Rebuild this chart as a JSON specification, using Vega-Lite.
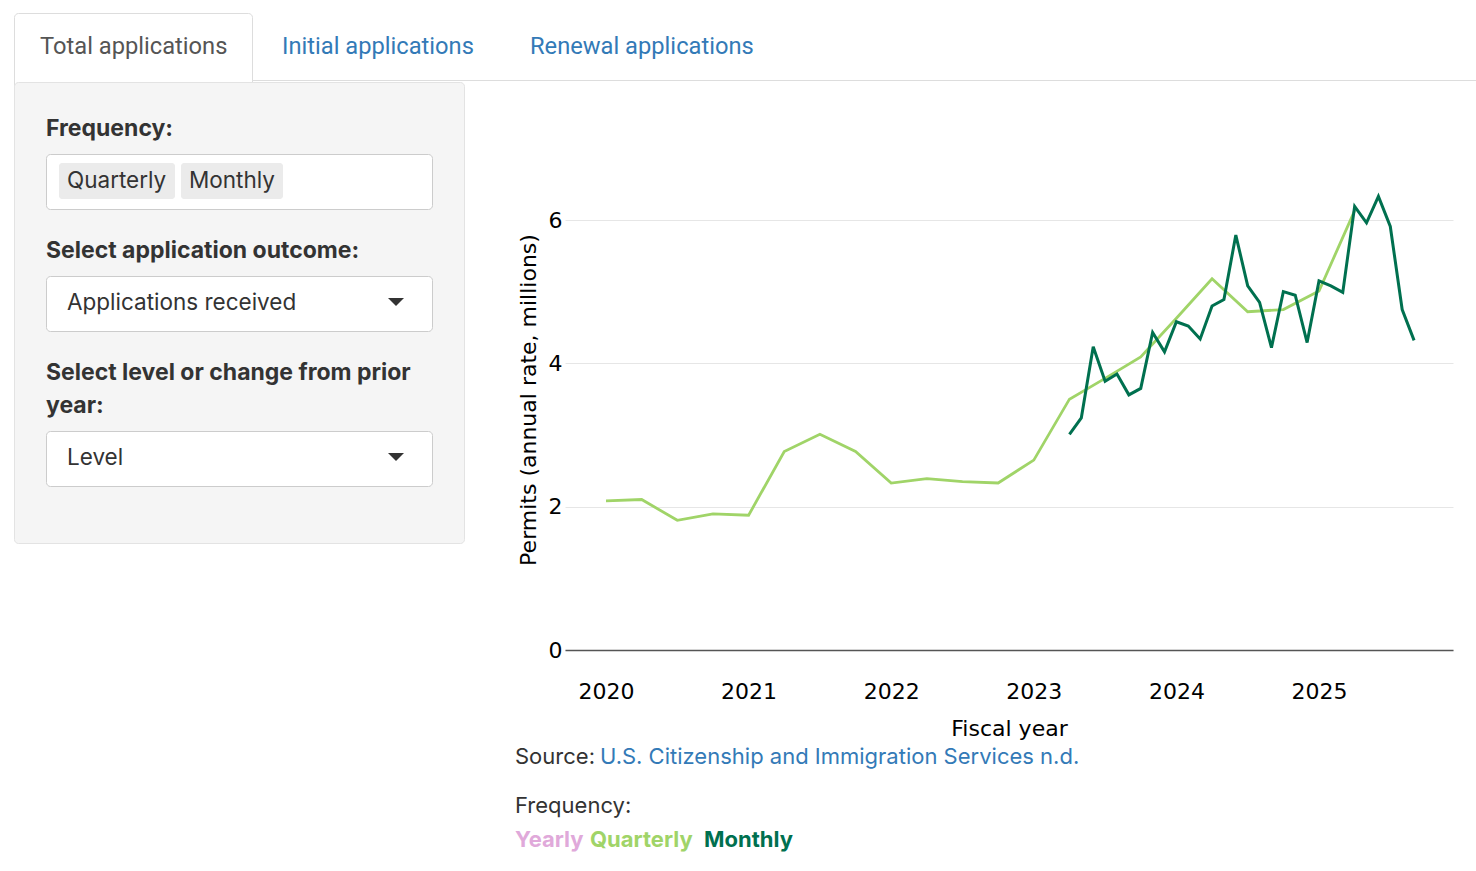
{
  "$schema": "https://vega.github.io/schema/vega-lite/v6.json",
  "padding": 0,
  "background": "white",
  "config": {"view": {"stroke": null}},
  "datasets": {
    "series": [
      {"t": 2020.0, "v": 2.08, "f": "Quarterly"},
      {"t": 2020.25, "v": 2.10, "f": "Quarterly"},
      {"t": 2020.5, "v": 1.81, "f": "Quarterly"},
      {"t": 2020.75, "v": 1.90, "f": "Quarterly"},
      {"t": 2021.0, "v": 1.88, "f": "Quarterly"},
      {"t": 2021.25, "v": 2.77, "f": "Quarterly"},
      {"t": 2021.5, "v": 3.01, "f": "Quarterly"},
      {"t": 2021.75, "v": 2.77, "f": "Quarterly"},
      {"t": 2022.0, "v": 2.33, "f": "Quarterly"},
      {"t": 2022.25, "v": 2.39, "f": "Quarterly"},
      {"t": 2022.5, "v": 2.35, "f": "Quarterly"},
      {"t": 2022.75, "v": 2.33, "f": "Quarterly"},
      {"t": 2023.0, "v": 2.65, "f": "Quarterly"},
      {"t": 2023.25, "v": 3.50, "f": "Quarterly"},
      {"t": 2023.5, "v": 3.79, "f": "Quarterly"},
      {"t": 2023.75, "v": 4.09, "f": "Quarterly"},
      {"t": 2024.0, "v": 4.63, "f": "Quarterly"},
      {"t": 2024.25, "v": 5.18, "f": "Quarterly"},
      {"t": 2024.5, "v": 4.72, "f": "Quarterly"},
      {"t": 2024.75, "v": 4.75, "f": "Quarterly"},
      {"t": 2025.0, "v": 5.01, "f": "Quarterly"},
      {"t": 2025.25, "v": 6.13, "f": "Quarterly"},
      {"t": 2023.25, "v": 3.01, "f": "Monthly"},
      {"t": 2023.3333, "v": 3.24, "f": "Monthly"},
      {"t": 2023.4167, "v": 4.23, "f": "Monthly"},
      {"t": 2023.5, "v": 3.75, "f": "Monthly"},
      {"t": 2023.5833, "v": 3.85, "f": "Monthly"},
      {"t": 2023.6667, "v": 3.56, "f": "Monthly"},
      {"t": 2023.75, "v": 3.65, "f": "Monthly"},
      {"t": 2023.8333, "v": 4.43, "f": "Monthly"},
      {"t": 2023.9167, "v": 4.16, "f": "Monthly"},
      {"t": 2024.0, "v": 4.58, "f": "Monthly"},
      {"t": 2024.0833, "v": 4.52, "f": "Monthly"},
      {"t": 2024.1667, "v": 4.34, "f": "Monthly"},
      {"t": 2024.25, "v": 4.80, "f": "Monthly"},
      {"t": 2024.3333, "v": 4.89, "f": "Monthly"},
      {"t": 2024.4167, "v": 5.79, "f": "Monthly"},
      {"t": 2024.5, "v": 5.08, "f": "Monthly"},
      {"t": 2024.5833, "v": 4.85, "f": "Monthly"},
      {"t": 2024.6667, "v": 4.22, "f": "Monthly"},
      {"t": 2024.75, "v": 5.00, "f": "Monthly"},
      {"t": 2024.8333, "v": 4.95, "f": "Monthly"},
      {"t": 2024.9167, "v": 4.29, "f": "Monthly"},
      {"t": 2025.0, "v": 5.15, "f": "Monthly"},
      {"t": 2025.0833, "v": 5.08, "f": "Monthly"},
      {"t": 2025.1667, "v": 4.99, "f": "Monthly"},
      {"t": 2025.25, "v": 6.19, "f": "Monthly"},
      {"t": 2025.3333, "v": 5.96, "f": "Monthly"},
      {"t": 2025.4167, "v": 6.33, "f": "Monthly"},
      {"t": 2025.5, "v": 5.91, "f": "Monthly"},
      {"t": 2025.5833, "v": 4.75, "f": "Monthly"},
      {"t": 2025.6667, "v": 4.32, "f": "Monthly"}
    ]
  },
  "spacing": 0,
  "bounds": "flush",
  "vconcat": [
    {
      "width": 1476,
      "height": 82,
      "data": {"values": [{}]},
      "layer": [
        {
          "mark": {"type": "rect", "fill": "white", "stroke": "#dddddd", "strokeWidth": 1, "cornerRadiusTopLeft": 4, "cornerRadiusTopRight": 4},
          "encoding": {
            "x": {"datum": 14.5, "type": "quantitative", "scale": {"domain": [0, 1476], "nice": false, "zero": false}, "axis": null},
            "x2": {"datum": 252.5},
            "y": {"datum": 13.5, "type": "quantitative", "scale": {"domain": [82, 0], "nice": false, "zero": false}, "axis": null},
            "y2": {"datum": 95}
          }
        },
        {
          "mark": {"type": "rule", "stroke": "#dddddd", "strokeWidth": 1},
          "encoding": {
            "x": {"datum": 252.5, "type": "quantitative", "axis": null},
            "x2": {"datum": 1476},
            "y": {"datum": 80.5, "type": "quantitative", "axis": null}
          }
        },
        {
          "mark": {"type": "text", "align": "left", "baseline": "middle", "font": "Roboto", "fontSize": 23.7, "color": "#555555", "text": "Total applications"},
          "encoding": {"x": {"datum": 40, "type": "quantitative", "axis": null}, "y": {"datum": 47, "type": "quantitative", "axis": null}}
        },
        {
          "mark": {"type": "text", "align": "left", "baseline": "middle", "font": "Roboto", "fontSize": 23.7, "color": "#337ab7", "text": "Initial applications"},
          "encoding": {"x": {"datum": 282, "type": "quantitative", "axis": null}, "y": {"datum": 47, "type": "quantitative", "axis": null}}
        },
        {
          "mark": {"type": "text", "align": "left", "baseline": "middle", "font": "Roboto", "fontSize": 23.7, "color": "#337ab7", "text": "Renewal applications"},
          "encoding": {"x": {"datum": 530, "type": "quantitative", "axis": null}, "y": {"datum": 47, "type": "quantitative", "axis": null}}
        }
      ]
    },
    {
      "spacing": 0,
      "bounds": "flush",
      "hconcat": [
        {
          "width": 565,
          "height": 568,
          "data": {"values": [{}]},
          "layer": [
            {
              "mark": {"type": "rect", "fill": "#f5f5f5", "stroke": "#e3e3e3", "strokeWidth": 1, "cornerRadius": 4},
              "encoding": {
                "x": {"datum": 14.5, "type": "quantitative", "scale": {"domain": [0, 565], "nice": false, "zero": false}, "axis": null},
                "x2": {"datum": 464.5},
                "y": {"datum": 82.5, "type": "quantitative", "scale": {"domain": [650, 82], "nice": false, "zero": false}, "axis": null},
                "y2": {"datum": 543.5}
              }
            },
            {
              "mark": {"type": "rect", "fill": "white", "stroke": "#cccccc", "strokeWidth": 1, "cornerRadius": 4},
              "encoding": {"x": {"datum": 46.5, "type": "quantitative", "axis": null}, "x2": {"datum": 432.5}, "y": {"datum": 154.5, "type": "quantitative", "axis": null}, "y2": {"datum": 209.5}}
            },
            {
              "mark": {"type": "rect", "fill": "white", "stroke": "#cccccc", "strokeWidth": 1, "cornerRadius": 4},
              "encoding": {"x": {"datum": 46.5, "type": "quantitative", "axis": null}, "x2": {"datum": 432.5}, "y": {"datum": 276.5, "type": "quantitative", "axis": null}, "y2": {"datum": 331.5}}
            },
            {
              "mark": {"type": "rect", "fill": "white", "stroke": "#cccccc", "strokeWidth": 1, "cornerRadius": 4},
              "encoding": {"x": {"datum": 46.5, "type": "quantitative", "axis": null}, "x2": {"datum": 432.5}, "y": {"datum": 431.5, "type": "quantitative", "axis": null}, "y2": {"datum": 486.5}}
            },
            {
              "mark": {"type": "rect", "fill": "#ebebeb", "cornerRadius": 3},
              "encoding": {"x": {"datum": 59, "type": "quantitative", "axis": null}, "x2": {"datum": 175}, "y": {"datum": 163, "type": "quantitative", "axis": null}, "y2": {"datum": 199}}
            },
            {
              "mark": {"type": "rect", "fill": "#ebebeb", "cornerRadius": 3},
              "encoding": {"x": {"datum": 181, "type": "quantitative", "axis": null}, "x2": {"datum": 283}, "y": {"datum": 163, "type": "quantitative", "axis": null}, "y2": {"datum": 199}}
            },
            {
              "mark": {"type": "text", "align": "left", "baseline": "middle", "font": "Inter", "fontSize": 23, "fontWeight": "bold", "color": "#333333", "text": "Frequency:"},
              "encoding": {"x": {"datum": 46, "type": "quantitative", "axis": null}, "y": {"datum": 129, "type": "quantitative", "axis": null}}
            },
            {
              "mark": {"type": "text", "align": "left", "baseline": "middle", "font": "Inter", "fontSize": 23, "fontWeight": "bold", "color": "#333333", "text": "Select application outcome:"},
              "encoding": {"x": {"datum": 46, "type": "quantitative", "axis": null}, "y": {"datum": 251, "type": "quantitative", "axis": null}}
            },
            {
              "mark": {"type": "text", "align": "left", "baseline": "middle", "font": "Inter", "fontSize": 23, "fontWeight": "bold", "color": "#333333", "text": "Select level or change from prior"},
              "encoding": {"x": {"datum": 46, "type": "quantitative", "axis": null}, "y": {"datum": 373, "type": "quantitative", "axis": null}}
            },
            {
              "mark": {"type": "text", "align": "left", "baseline": "middle", "font": "Inter", "fontSize": 23, "fontWeight": "bold", "color": "#333333", "text": "year:"},
              "encoding": {"x": {"datum": 46, "type": "quantitative", "axis": null}, "y": {"datum": 406, "type": "quantitative", "axis": null}}
            },
            {
              "mark": {"type": "text", "align": "left", "baseline": "middle", "font": "Inter", "fontSize": 22.5, "color": "#333333", "text": "Quarterly"},
              "encoding": {"x": {"datum": 67, "type": "quantitative", "axis": null}, "y": {"datum": 181, "type": "quantitative", "axis": null}}
            },
            {
              "mark": {"type": "text", "align": "left", "baseline": "middle", "font": "Inter", "fontSize": 22.5, "color": "#333333", "text": "Monthly"},
              "encoding": {"x": {"datum": 189, "type": "quantitative", "axis": null}, "y": {"datum": 181, "type": "quantitative", "axis": null}}
            },
            {
              "mark": {"type": "text", "align": "left", "baseline": "middle", "font": "Inter", "fontSize": 22.5, "color": "#333333", "text": "Applications received"},
              "encoding": {"x": {"datum": 67, "type": "quantitative", "axis": null}, "y": {"datum": 303, "type": "quantitative", "axis": null}}
            },
            {
              "mark": {"type": "text", "align": "left", "baseline": "middle", "font": "Inter", "fontSize": 22.5, "color": "#333333", "text": "Level"},
              "encoding": {"x": {"datum": 67, "type": "quantitative", "axis": null}, "y": {"datum": 458, "type": "quantitative", "axis": null}}
            },
            {
              "mark": {"type": "point", "shape": "M-1,-0.5L1,-0.5L0,0.5Z", "size": 256, "filled": true, "color": "#333333", "opacity": 1},
              "encoding": {"x": {"datum": 396, "type": "quantitative", "axis": null}, "y": {"datum": 302, "type": "quantitative", "axis": null}}
            },
            {
              "mark": {"type": "point", "shape": "M-1,-0.5L1,-0.5L0,0.5Z", "size": 256, "filled": true, "color": "#333333", "opacity": 1},
              "encoding": {"x": {"datum": 396, "type": "quantitative", "axis": null}, "y": {"datum": 457, "type": "quantitative", "axis": null}}
            }
          ]
        },
        {
          "width": 888,
          "height": 568,
          "layer": [
            {
              "data": {"name": "series"},
              "transform": [{"filter": "datum.f === 'Quarterly'"}],
              "mark": {"type": "line", "strokeWidth": 2.8},
              "encoding": {
                "x": {
                  "field": "t", "type": "quantitative",
                  "scale": {"domain": [2019.7125, 2025.9397], "nice": false, "zero": false},
                  "axis": {"values": [2020, 2021, 2022, 2023, 2024, 2025], "format": "d", "title": "Fiscal year", "labelFont": "DejaVu Sans", "labelFontSize": 22, "labelColor": "#000000", "labelPadding": 31, "labelFlush": false, "ticks": false, "tickSize": 0, "grid": false, "domainColor": "#555555", "domainWidth": 1.5, "titleFont": "DejaVu Sans", "titleFontSize": 22, "titleFontWeight": "normal", "titleColor": "#000000", "titlePadding": 16}
                },
                "y": {
                  "field": "v", "type": "quantitative",
                  "scale": {"domain": [0, 7.9256], "nice": false, "zero": false},
                  "axis": {"values": [0, 2, 4, 6], "format": "d", "title": "Permits (annual rate, millions)", "labelFont": "DejaVu Sans", "labelFontSize": 22, "labelColor": "#000000", "labelPadding": 3, "ticks": false, "tickSize": 0, "domain": false, "grid": true, "gridColor": "#e6e6e6", "gridWidth": 1, "titleFont": "DejaVu Sans", "titleFontSize": 22, "titleFontWeight": "normal", "titleColor": "#000000", "titlePadding": 8, "titleY": 317.5}
                },
                "color": {
                  "field": "f", "type": "nominal",
                  "scale": {"domain": ["Yearly", "Quarterly", "Monthly"], "range": ["#e0a9da", "#a0d468", "#00704f"]},
                  "legend": null
                }
              }
            },
            {
              "data": {"name": "series"},
              "transform": [{"filter": "datum.f === 'Monthly'"}],
              "mark": {"type": "line", "strokeWidth": 3},
              "encoding": {
                "x": {"field": "t", "type": "quantitative"},
                "y": {"field": "v", "type": "quantitative"},
                "color": {"field": "f", "type": "nominal", "legend": null}
              }
            },
            {
              "data": {"values": [{}]},
              "mark": {"type": "text", "align": "left", "baseline": "middle", "font": "Inter", "fontSize": 22, "color": "#333333", "text": "Source:"},
              "encoding": {"x": {"datum": 2019.3619, "type": "quantitative"}, "y": {"datum": -1.493, "type": "quantitative"}}
            },
            {
              "data": {"values": [{}]},
              "mark": {"type": "text", "align": "left", "baseline": "middle", "font": "Inter", "fontSize": 22, "color": "#337ab7", "text": "U.S. Citizenship and Immigration Services n.d."},
              "encoding": {"x": {"datum": 2019.958, "type": "quantitative"}, "y": {"datum": -1.493, "type": "quantitative"}}
            },
            {
              "data": {"values": [{}]},
              "mark": {"type": "text", "align": "left", "baseline": "middle", "font": "Inter", "fontSize": 22, "color": "#333333", "text": "Frequency:"},
              "encoding": {"x": {"datum": 2019.3619, "type": "quantitative"}, "y": {"datum": -2.1767, "type": "quantitative"}}
            },
            {
              "data": {"values": [{}]},
              "mark": {"type": "text", "align": "left", "baseline": "middle", "font": "Inter", "fontSize": 22, "fontWeight": "bold"},
              "encoding": {"x": {"datum": 2019.3619, "type": "quantitative"}, "y": {"datum": -2.6512, "type": "quantitative"}, "text": {"datum": "Yearly"}, "color": {"datum": "Yearly", "type": "nominal", "legend": null}}
            },
            {
              "data": {"values": [{}]},
              "mark": {"type": "text", "align": "left", "baseline": "middle", "font": "Inter", "fontSize": 22, "fontWeight": "bold"},
              "encoding": {"x": {"datum": 2019.8878, "type": "quantitative"}, "y": {"datum": -2.6512, "type": "quantitative"}, "text": {"datum": "Quarterly"}, "color": {"datum": "Quarterly", "type": "nominal", "legend": null}}
            },
            {
              "data": {"values": [{}]},
              "mark": {"type": "text", "align": "left", "baseline": "middle", "font": "Inter", "fontSize": 22, "fontWeight": "bold"},
              "encoding": {"x": {"datum": 2020.6872, "type": "quantitative"}, "y": {"datum": -2.6512, "type": "quantitative"}, "text": {"datum": "Monthly"}, "color": {"datum": "Monthly", "type": "nominal", "legend": null}}
            }
          ]
        }
      ]
    }
  ]
}
